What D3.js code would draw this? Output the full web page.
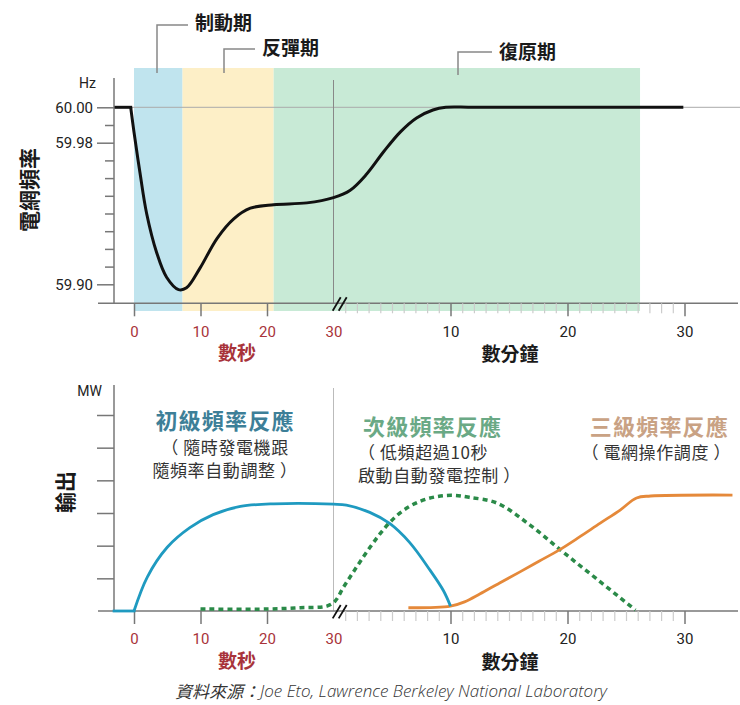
<!DOCTYPE html>
<html>
<head>
<meta charset="utf-8">
<script src="https://cdn.jsdelivr.net/npm/d3@7"></script>
<style>
  body { margin: 0; background: #fff; }
  svg { display: block; }
</style>
</head>
<body>
<script>
// time runs in seconds up to the break at 30 s, then in minutes after it
var freqSecT = [-2.7, -0.5, 0, 0.9, 1.9, 3.4, 4.9, 6.7, 7.9, 9.9, 12.5, 15, 17.5, 21, 26, 30];
var freqSecV = [60.00, 60.00, 59.986, 59.963, 59.940, 59.918, 59.904, 59.897, 59.898, 59.909, 59.926, 59.937, 59.943, 59.945, 59.946, 59.949];
var freqMinT = [1.4, 2.8, 4.3, 5.7, 7.1, 8.5, 9.6, 12, 29.9];
var freqMinV = [59.953, 59.962, 59.975, 59.986, 59.994, 59.9985, 60.00, 60.00, 60.00];

var phaseNames = ['制動期', '反彈期', '復原期'];
var phaseFrom = [['s', 0], ['s', 7.3], ['s', 21]];
var phaseTo = [['s', 7.3], ['s', 21], ['m', 26.2]];

// output, MW
var primarySecT = [-3, 0, 2, 5, 8.4, 11.9, 16, 21, 30];
var primarySecV = [0, 0, 1.04, 1.95, 2.55, 2.95, 3.2, 3.28, 3.27];
var primaryMinT = [1.1, 3.1, 4.8, 6.5, 8.25, 9.4, 10];
var primaryMinV = [3.24, 3.02, 2.68, 2.1, 1.25, 0.62, 0.15];

var secondarySecT = [10, 20, 25, 29];
var secondarySecV = [0.06, 0.06, 0.1, 0.15];
var secondaryMinT = [0.13, 0.84, 1.56, 2.26, 3.12, 3.97, 4.83, 5.97, 7.4, 8.8, 10.2, 11.6, 14, 16.8, 19.6, 22.5, 25.8];
var secondaryMinV = [0.3, 0.72, 1.12, 1.5, 1.95, 2.36, 2.72, 3.08, 3.36, 3.5, 3.54, 3.48, 3.3, 2.63, 1.81, 0.98, 0.03];

var tertiaryMinT = [6.4, 10, 11.2, 12.5, 14.2, 15.9, 17.6, 19.3, 21, 22.8, 24.5, 25.9, 27.1, 34.1];
var tertiaryMinV = [0.1, 0.15, 0.28, 0.52, 0.86, 1.19, 1.53, 1.87, 2.26, 2.69, 3.09, 3.46, 3.52, 3.55];

var secTicks = [0, 10, 20, 30];
var minTicks = [10, 20, 30];
var hzTicks = [59.90, 59.98, 60.00];
var mwTicks = [1, 2, 3, 4, 5, 6];

var titles = ['初級頻率反應', '次級頻率反應', '三級頻率反應'];
var notes = [['（ 隨時發電機跟', '隨頻率自動調整 ）'], ['（ 低頻超過10秒', '啟動自動發電控制 ）'], ['（ 電網操作調度 ）']];

var CJK = '"Noto Sans CJK TC", "Noto Sans CJK SC", sans-serif';
var NUM = 'Roboto, "Liberation Sans", sans-serif';

var svg = d3.select('body').append('svg')
    .attr('width', 740)
    .attr('height', 705);

var xs = d3.scaleLinear().domain([0, 30]).range([134, 333.5]);
var xm = d3.scaleLinear().domain([0, 30]).range([333.5, 684.5]);
var yHz = d3.scaleLinear().domain([59.90, 60.00]).range([284.3, 107.3]);
var yMw = d3.scaleLinear().domain([0, 6]).range([611, 415]);

function xAt(p) { return p[0] === 's' ? xs(p[1]) : xm(p[1]); }

function points(secT, secV, minT, minV) {
    var pts = [];
    secT.forEach(function (t, i) { pts.push({ u: 's', t: t, v: secV[i] }); });
    minT.forEach(function (t, i) { pts.push({ u: 'm', t: t, v: minV[i] }); });
    return pts;
}

// phase bands
svg.selectAll('rect.phase')
    .data(phaseNames)
  .enter().append('rect')
    .attr('class', 'phase')
    .attr('x', function (d, i) { return xAt(phaseFrom[i]); })
    .attr('width', function (d, i) { return xAt(phaseTo[i]) - xAt(phaseFrom[i]); })
    .attr('y', 68)
    .attr('height', 243)
    .attr('fill', function (d, i) { return ['#c0e4ee', '#fdefc7', '#c8ead6'][i]; });

// leaders + phase labels
var leaders = [[157, 73, 25, 188], [224, 73, 49, 255], [458, 75, 52, 492]];
var labelPos = [[195, 21.5], [262, 46.5], [499, 50]];
svg.selectAll('path.leader')
    .data(phaseNames)
  .enter().append('path')
    .attr('d', function (d, i) {
        var l = leaders[i];
        return 'M' + l[0] + ',' + l[1] + 'V' + l[2] + 'H' + l[3];
    })
    .attr('fill', 'none')
    .attr('stroke', '#888')
    .attr('stroke-width', 1.5);
svg.selectAll('text.phase')
    .data(phaseNames)
  .enter().append('text')
    .attr('x', function (d, i) { return labelPos[i][0]; })
    .attr('y', function (d, i) { return labelPos[i][1]; })
    .attr('dominant-baseline', 'central')
    .style('font-family', CJK)
    .style('font-size', '19px')
    .style('font-weight', 'bold')
    .attr('fill', '#1a1a1a')
    .text(function (d) { return d; });

// top grid line and break lines
svg.append('line')
    .attr('x1', 114).attr('x2', 740)
    .attr('y1', yHz(60)).attr('y2', yHz(60))
    .attr('stroke', '#aaa').attr('stroke-width', 1);
svg.append('line')
    .attr('x1', xs(30)).attr('x2', xs(30))
    .attr('y1', 80).attr('y2', 303.3)
    .attr('stroke', '#888').attr('stroke-width', 1);
svg.append('line')
    .attr('x1', xs(30)).attr('x2', xs(30))
    .attr('y1', 388).attr('y2', 611)
    .attr('stroke', '#bbb').attr('stroke-width', 1);

function xAxis(y0) {
    svg.append('line')
        .attr('x1', 98).attr('x2', 738)
        .attr('y1', y0).attr('y2', y0)
        .attr('stroke', '#777').attr('stroke-width', 1.5);

    var minor = d3.range(1, 30).filter(function (m) { return minTicks.indexOf(m) < 0; });
    var gMinor = svg.append('g')
        .attr('transform', 'translate(0,' + y0 + ')')
        .call(d3.axisBottom(xm).tickValues(minor).tickSize(10).tickFormat(''));
    gMinor.select('.domain').remove();
    gMinor.selectAll('line').attr('stroke', '#ccc').attr('stroke-width', 1.2);

    var gMin = svg.append('g')
        .attr('transform', 'translate(0,' + y0 + ')')
        .call(d3.axisBottom(xm).tickValues(minTicks).tickSize(13));
    var gSec = svg.append('g')
        .attr('transform', 'translate(0,' + y0 + ')')
        .call(d3.axisBottom(xs).tickValues(secTicks).tickSize(13));
    [gMin, gSec].forEach(function (g, k) {
        g.select('.domain').remove();
        g.selectAll('line').attr('stroke', '#777').attr('stroke-width', 1.5);
        g.selectAll('text')
            .attr('y', 28).attr('dy', '0.35em')
            .style('font-family', NUM).style('font-size', '15px')
            .attr('fill', k ? '#a8333a' : '#222');
    });
    gSec.selectAll('.tick').filter(function (d) { return d === 30; }).select('line').remove();

    // break marks
    var bx = xs(30);
    svg.append('path')
        .attr('d', 'M' + (bx - 0.8) + ',' + (y0 + 7.4) + 'L' + (bx + 7.2) + ',' + (y0 - 6) +
                   'M' + (bx + 5.2) + ',' + (y0 + 7.4) + 'L' + (bx + 13.2) + ',' + (y0 - 6))
        .attr('stroke', '#111').attr('stroke-width', 1.8).attr('fill', 'none');

    svg.append('text')
        .attr('x', 237).attr('y', y0 + 48)
        .attr('text-anchor', 'middle').attr('dominant-baseline', 'central')
        .style('font-family', CJK).style('font-size', '19px').style('font-weight', 'bold')
        .attr('fill', '#a8333a')
        .text('數秒');
    svg.append('text')
        .attr('x', 510).attr('y', y0 + 49)
        .attr('text-anchor', 'middle').attr('dominant-baseline', 'central')
        .style('font-family', CJK).style('font-size', '19px').style('font-weight', 'bold')
        .attr('fill', '#1a1a1a')
        .text('數分鐘');
}

xAxis(303.3);
xAxis(611);

// top y axis
svg.append('line')
    .attr('x1', 114).attr('x2', 114).attr('y1', 78).attr('y2', 303.3)
    .attr('stroke', '#777').attr('stroke-width', 1.5);
var hzMinor = d3.range(59.91, 59.995, 0.01).filter(function (v) { return Math.abs(v - 59.98) > 0.001; });
var gHzMinor = svg.append('g')
    .attr('transform', 'translate(114,0)')
    .call(d3.axisLeft(yHz).tickValues(hzMinor).tickSize(9).tickFormat(''));
gHzMinor.select('.domain').remove();
gHzMinor.selectAll('line').attr('stroke', '#777').attr('stroke-width', 1.5);
var gHz = svg.append('g')
    .attr('transform', 'translate(114,0)')
    .call(d3.axisLeft(yHz).tickValues(hzTicks).tickSize(17).tickPadding(4).tickFormat(d3.format('.2f')));
gHz.select('.domain').remove();
gHz.selectAll('line').attr('stroke', '#777').attr('stroke-width', 1.5);
gHz.selectAll('text')
    .style('font-family', NUM).style('font-size', '15px').attr('fill', '#222');

svg.append('text')
    .attr('x', 96).attr('y', 83)
    .attr('text-anchor', 'end').attr('dominant-baseline', 'central')
    .style('font-family', NUM).style('font-size', '14px').attr('fill', '#222')
    .text('Hz');
svg.append('text')
    .attr('transform', 'translate(27.5,190) rotate(-90)')
    .attr('text-anchor', 'middle').attr('dominant-baseline', 'central')
    .style('font-family', CJK).style('font-size', '21px').style('font-weight', 'bold')
    .attr('fill', '#1a1a1a')
    .text('電網頻率');

// bottom y axis
svg.append('line')
    .attr('x1', 114).attr('x2', 114).attr('y1', 385).attr('y2', 611)
    .attr('stroke', '#777').attr('stroke-width', 1.5);
var gMw = svg.append('g')
    .attr('transform', 'translate(114,0)')
    .call(d3.axisLeft(yMw).tickValues(mwTicks).tickSize(17).tickFormat(''));
gMw.select('.domain').remove();
gMw.selectAll('line').attr('stroke', '#777').attr('stroke-width', 1.5);
svg.append('text')
    .attr('x', 102).attr('y', 391)
    .attr('text-anchor', 'end').attr('dominant-baseline', 'central')
    .style('font-family', NUM).style('font-size', '14px').attr('fill', '#222')
    .text('MW');
svg.append('text')
    .attr('transform', 'translate(64,492) rotate(-90)')
    .attr('text-anchor', 'middle').attr('dominant-baseline', 'central')
    .style('font-family', CJK).style('font-size', '21px').style('font-weight', 'bold')
    .attr('fill', '#1a1a1a')
    .text('輸出');

// curves: optional straight lead-in, the rest smoothed
function drawCurve(pts, yScale, color, width, dash, leadStraight) {
    var line = d3.line()
        .x(function (d) { return xAt([d.u, d.t]); })
        .y(function (d) { return yScale(d.v); });
    var smooth = leadStraight ? pts.slice(1) : pts;
    if (leadStraight) {
        svg.append('path')
            .attr('d', line(pts.slice(0, 2)))
            .attr('fill', 'none').attr('stroke', color).attr('stroke-width', width)
            .attr('stroke-linecap', 'square');
    }
    var p = svg.append('path')
        .attr('d', line.curve(d3.curveCatmullRom.alpha(0.5))(smooth))
        .attr('fill', 'none').attr('stroke', color).attr('stroke-width', width)
        .attr('stroke-linejoin', 'round');
    if (dash) p.attr('stroke-dasharray', dash);
}

drawCurve(points(freqSecT, freqSecV, freqMinT, freqMinV), yHz, '#111', 3, null, true);
drawCurve(points(secondarySecT, secondarySecV, secondaryMinT, secondaryMinV), yMw, '#2a8a48', 3.5, '5,4', false);
drawCurve(points([], [], tertiaryMinT, tertiaryMinV), yMw, '#e5893a', 2.8, null, false);
drawCurve(points(primarySecT, primarySecV, primaryMinT, primaryMinV), yMw, '#1f9ac0', 2.8, null, true);

// response titles + notes
var titleColors = ['#3d7f98', '#6aa985', '#c9a284'];
var titleX = [225, 363, 729];
var titleY = [419, 425, 425];
var anchors = ['middle', 'start', 'end'];
var noteX = [225, 358, 731];
var noteY = [[446, 469], [451, 474.5], [451]];

svg.selectAll('text.title')
    .data(titles)
  .enter().append('text')
    .attr('x', function (d, i) { return titleX[i]; })
    .attr('y', function (d, i) { return titleY[i]; })
    .attr('text-anchor', function (d, i) { return anchors[i]; })
    .attr('dominant-baseline', 'central')
    .style('font-family', CJK).style('font-size', '22px').style('font-weight', 'bold')
    .style('letter-spacing', '1.2px')
    .attr('fill', function (d, i) { return titleColors[i]; })
    .text(function (d) { return d; });

notes.forEach(function (lines, i) {
    lines.forEach(function (s, j) {
        svg.append('text')
            .attr('x', noteX[i]).attr('y', noteY[i][j])
            .attr('text-anchor', anchors[i]).attr('dominant-baseline', 'central')
            .style('font-family', CJK).style('font-size', '17px')
            .style('letter-spacing', '0.6px')
            .style('white-space', 'pre')
            .attr('fill', '#333')
            .text(s);
    });
});

// source
var src = svg.append('text')
    .attr('x', 391).attr('y', 690)
    .attr('text-anchor', 'middle').attr('dominant-baseline', 'central')
    .style('font-size', '17px').style('font-style', 'italic')
    .attr('fill', '#333');
src.append('tspan').style('font-family', CJK).text('資料來源：');
src.append('tspan').style('font-family', '"Open Sans", sans-serif').style('font-weight', 300)
    .text('Joe Eto, Lawrence Berkeley National Laboratory');
</script>
</body>
</html>
